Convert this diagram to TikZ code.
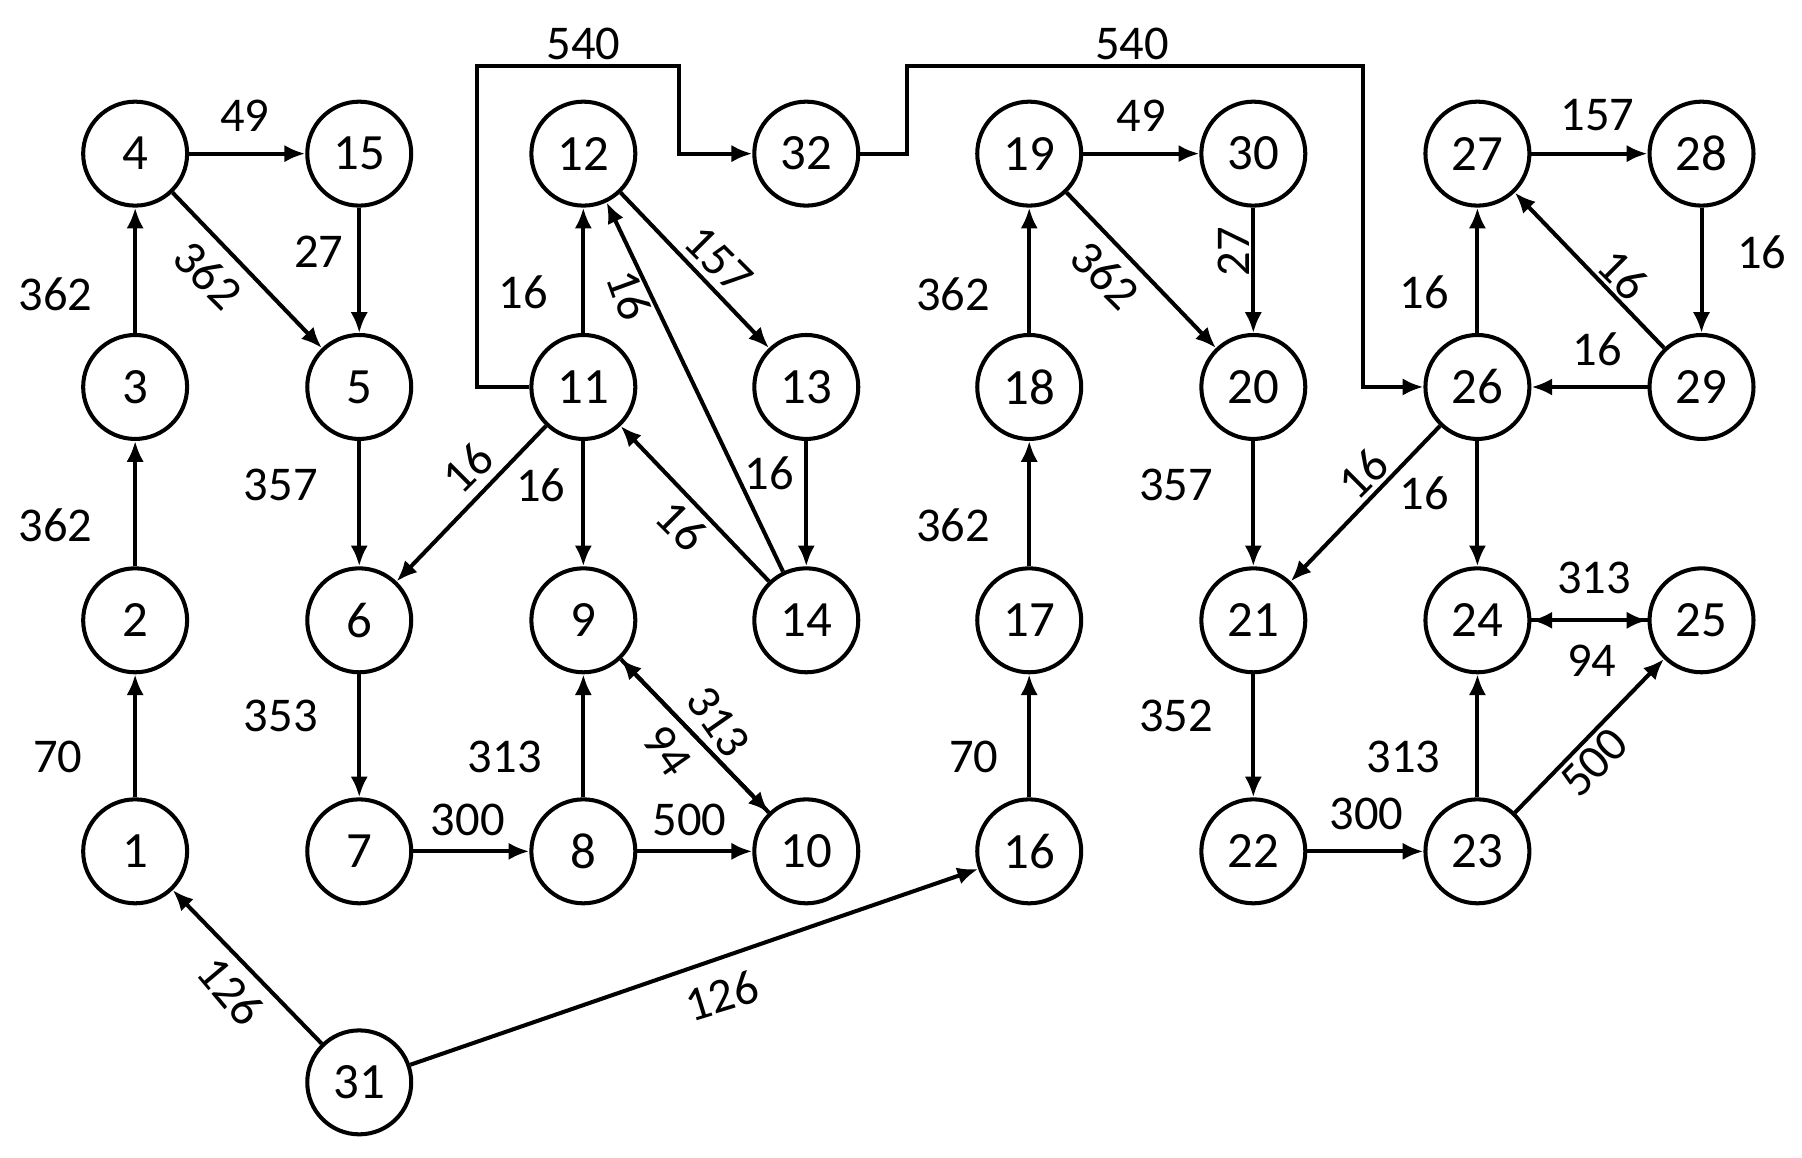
\documentclass[tikz,border=0pt]{standalone}
\usepackage{fontspec}
\setmainfont{Carlito}
\usetikzlibrary{arrows.meta}
\begin{document}
\begin{tikzpicture}[x=1pt,y=-1pt,
 n/.style={circle,draw,line width=3.5pt,minimum size=90pt,inner sep=0pt,font=\fontsize{44}{44}\selectfont},
 e/.style={line width=3.5pt,-{Latex[length=18pt,width=15pt]}},
 l/.style={font=\fontsize{42}{42}\selectfont,inner sep=1pt}]
\useasboundingbox (0,0) rectangle (1560,1002);
\foreach \i/\x/\y in {4/117/133,15/311/133,12/505/133,32/698/133,19/891/133,30/1085/133,27/1279/133,28/1473/133,
3/117/335,5/311/335,11/505/335,13/698/335,18/891/335,20/1085/335,26/1279/335,29/1473/335,
2/117/537,6/311/537,9/505/537,14/698/537,17/891/537,21/1085/537,24/1279/537,25/1473/537,
1/117/737,7/311/737,8/505/737,10/698/737,16/891/737,22/1085/737,23/1279/737,31/311/937}
 \node[n] (n\i) at (\x,\y) {\i};
\draw[e] (n1)--(n2); \node[l] at (50,655) {70};
\draw[e] (n2)--(n3); \node[l] at (48,455) {362};
\draw[e] (n3)--(n4); \node[l] at (48,255) {362};
\draw[e] (n4)--(n15); \node[l] at (212,100) {49};
\draw[e] (n4)--(n5); \node[l,rotate=-45] at (180,238) {362};
\draw[e] (n15)--(n5); \node[l] at (276,218) {27};
\draw[e] (n5)--(n6); \node[l] at (243,420) {357};
\draw[e] (n6)--(n7); \node[l] at (243,620) {353};
\draw[e] (n7)--(n8); \node[l] at (405,710) {300};
\draw[e] (n8)--(n9); \node[l] at (437,655) {313};
\draw[e] (n8)--(n10); \node[l] at (597,710) {500};
\draw[e] (n9)--(n10); \draw[e] (n10)--(n9);
\node[l,rotate=-55] at (622,625) {313};
\node[l,rotate=-55] at (578,650) {94};
\draw[e] (n11)--(n12); \node[l] at (453,253) {16};
\draw[e] (n11)--(n9); \node[l] at (468,420) {16};
\draw[e] (n11)--(n6); \node[l,rotate=45] at (405,405) {16};
\draw[e] (n12)--(n13); \node[l,rotate=-45] at (622,225) {157};
\draw[e] (n14)--(n12); \node[l,rotate=-70] at (545,255) {16};
\draw[e] (n14)--(n11); \node[l,rotate=-45] at (590,455) {16};
\draw[e] (n13)--(n14); \node[l] at (666,410) {16};
\draw[e] (n11.west) -- (413,335) -- (413,57) -- (588,57) -- (588,133) -- (n32.west);
\node[l] at (505,38) {540};
\draw[e] (n32.east) -- (785,133) -- (785,57) -- (1180,57) -- (1180,335) -- (n26.west);
\node[l] at (980,38) {540};
\draw[e] (n31)--(n1); \node[l,rotate=-50] at (200,858) {126};
\draw[e] (n31)--(n16); \node[l,rotate=17] at (625,862) {126};
\draw[e] (n16)--(n17); \node[l] at (843,655) {70};
\draw[e] (n17)--(n18); \node[l] at (825,455) {362};
\draw[e] (n18)--(n19); \node[l] at (825,255) {362};
\draw[e] (n19)--(n30); \node[l] at (988,100) {49};
\draw[e] (n19)--(n20); \node[l,rotate=-45] at (957,238) {362};
\draw[e] (n30)--(n20); \node[l,rotate=90] at (1068,218) {27};
\draw[e] (n20)--(n21); \node[l] at (1018,420) {357};
\draw[e] (n21)--(n22); \node[l] at (1018,620) {352};
\draw[e] (n22)--(n23); \node[l] at (1183,705) {300};
\draw[e] (n23)--(n24); \node[l] at (1215,655) {313};
\draw[e] (n23)--(n25); \node[l,rotate=45] at (1380,660) {500};
\draw[e] (n24)--(n25); \draw[e] (n25)--(n24);
\node[l] at (1380,500) {313}; \node[l] at (1378,572) {94};
\draw[e] (n26)--(n27); \node[l] at (1233,253) {16};
\draw[e] (n26)--(n24); \node[l] at (1233,427) {16};
\draw[e] (n26)--(n21); \node[l,rotate=45] at (1180,410) {16};
\draw[e] (n27)--(n28); \node[l] at (1383,100) {157};
\draw[e] (n28)--(n29); \node[l] at (1525,218) {16};
\draw[e] (n29)--(n27); \node[l,rotate=-45] at (1405,238) {16};
\draw[e] (n29)--(n26); \node[l] at (1383,302) {16};
\end{tikzpicture}
\end{document}
